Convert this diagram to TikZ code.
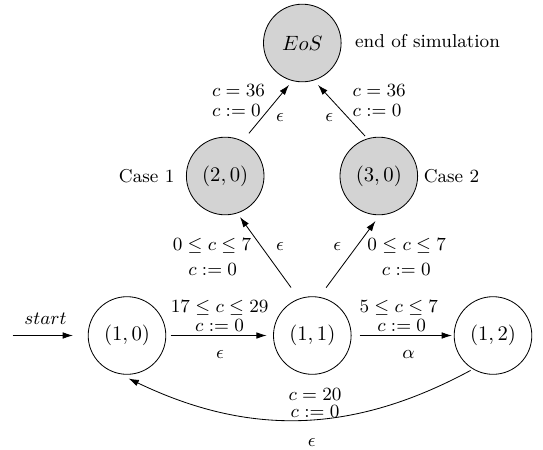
\documentclass[tikz,border=0pt]{standalone}
\usetikzlibrary{arrows.meta,calc}
\definecolor{stategray}{RGB}{211,211,211}
\begin{document}
\begin{tikzpicture}[x=0.4831pt,y=0.4831pt,
  state/.style={circle,draw,line width=0.4pt,minimum size=37.5pt,inner sep=0pt},
  fin/.style={state,fill=stategray},
  lbl/.style={inner sep=0pt,font=\small},
  arr/.style={line width=0.4pt,-{Latex[length=5pt,width=3.2pt]}}]
\useasboundingbox (0,0) rectangle (543,-449);
% states
\node[state] (n10) at (127,-335.5) {$(1,0)$};
\node[state] (n11) at (312.3,-335.5) {$(1,1)$};
\node[state] (n12) at (493,-335.5) {$(1,2)$};
\node[fin] (n20) at (225.2,-176) {$(2,0)$};
\node[fin] (n30) at (378.8,-176) {$(3,0)$};
\node[fin] (eos) at (302.3,-43) {$EoS$};
% side texts
\node[lbl] (case1) at (146.7,-175.7) {Case 1};
\node[lbl] (case2) at (451.5,-175.7) {Case 2};
\node[lbl] (eostxt) at (427.5,-41.5) {end of simulation};
% initial arrow
\coordinate (s0) at (12.7,-335.5);
\node[lbl] (startlbl) at (45.5,-319) {$start$};
\draw[arr] (s0) -- ($(n10)+(180:54)$);
% horizontal transitions
\draw[arr] ($(n10)+(0:43.7)$) -- ($(n11)+(180:45.6)$);
\node[lbl] (l1a) at (219.7,-307.7) {$17\leq c\leq 29$};
\node[lbl] (l1b) at (219.6,-325) {$c:=0$};
\node[lbl] (l1e) at (220,-354.5) {$\epsilon$};
\draw[arr] ($(n11)+(0:47.2)$) -- ($(n12)+(180:41)$);
\node[lbl] (l2a) at (398.8,-307.7) {$5\leq c\leq 7$};
\node[lbl] (l2b) at (401.7,-325) {$c:=0$};
\node[lbl] (l2e) at (408.6,-354.5) {$\alpha$};
% return curve
\draw[arr] ($(n12)+(237.3:41.5)$) to[bend left=27] ($(n10)+(-88:43)$);
\node[lbl] (l3a) at (315,-394.3) {$c=20$};
\node[lbl] (l3b) at (315,-411.6) {$c:=0$};
\node[lbl] (l3e) at (311.7,-442.8) {$\epsilon$};
% (1,1) -> cases
\draw[arr] ($(n11)+(113.9:52.5)$) -- ($(n20)+(-70.2:43.6)$);
\node[lbl] (laa) at (212,-246) {$0\leq c\leq 7$};
\node[lbl] (lab) at (212.7,-269.3) {$c:=0$};
\node[lbl] (lae) at (280,-246.7) {$\epsilon$};
\draw[arr] ($(n11)+(73.9:49.8)$) -- ($(n30)+(-94.2:45.1)$);
\node[lbl] (lba) at (406.7,-246) {$0\leq c\leq 7$};
\node[lbl] (lbb) at (406.3,-269.3) {$c:=0$};
\node[lbl] (lbe) at (337.3,-246.7) {$\epsilon$};
% cases -> EoS
\draw[arr] ($(n20)+(60.9:48.9)$) -- ($(eos)+(252.4:44)$);
\node[lbl,anchor=west] (e1a) at (211.7,-90.7) {$c=36$};
\node[lbl,anchor=west] (e1b) at (211.7,-110) {$c:=0$};
\node[lbl] (e1e) at (280,-117.3) {$\epsilon$};
\draw[arr] ($(n30)+(109:42.3)$) -- ($(eos)+(-69.5:44.8)$);
\node[lbl,anchor=west] (e2a) at (352.3,-90.7) {$c=36$};
\node[lbl,anchor=west] (e2b) at (352.3,-110) {$c:=0$};
\node[lbl] (e2e) at (329.3,-117.3) {$\epsilon$};
\end{tikzpicture}
\end{document}
